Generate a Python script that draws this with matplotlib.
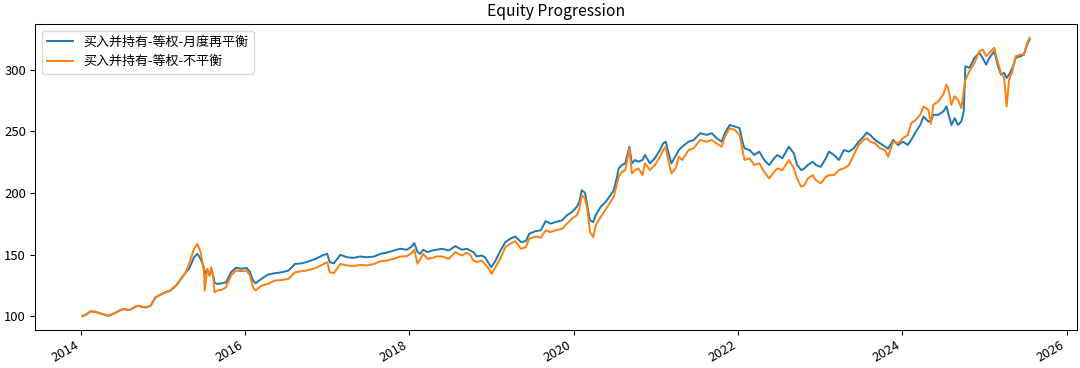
import datetime as dt
import matplotlib
matplotlib.use("Agg")
import matplotlib.pyplot as plt

plt.rcParams['font.family'] = ['Noto Sans CJK SC', 'DejaVu Sans']
plt.rcParams['axes.unicode_minus'] = False

# time axis as decimal years
years = [
    2014.02, 2014.06, 2014.12, 2014.18, 2014.24, 2014.34, 2014.43, 2014.51, 2014.59, 2014.69,
    2014.79, 2014.85, 2014.91, 2014.97, 2015.03, 2015.09, 2015.16, 2015.22, 2015.28, 2015.32,
    2015.38, 2015.42, 2015.46, 2015.50, 2015.51, 2015.54, 2015.57, 2015.59, 2015.61, 2015.63,
    2015.66, 2015.72, 2015.77, 2015.83, 2015.89, 2015.96, 2016.02, 2016.06, 2016.10, 2016.13,
    2016.20, 2016.28, 2016.36, 2016.45, 2016.53, 2016.61, 2016.70, 2016.78, 2016.86, 2016.95,
    2017.00, 2017.03, 2017.08, 2017.16, 2017.24, 2017.32, 2017.40, 2017.48, 2017.57, 2017.65,
    2017.73, 2017.81, 2017.89, 2017.97, 2018.03, 2018.06, 2018.10, 2018.13, 2018.17, 2018.22,
    2018.28, 2018.34, 2018.40, 2018.48, 2018.56, 2018.64, 2018.70, 2018.74, 2018.78, 2018.82,
    2018.88, 2018.92, 2018.97, 2019.00, 2019.05, 2019.11, 2019.17, 2019.23, 2019.29, 2019.36,
    2019.42, 2019.46, 2019.54, 2019.60, 2019.66, 2019.72, 2019.78, 2019.86, 2019.92, 2019.98,
    2020.04, 2020.07, 2020.10, 2020.14, 2020.17, 2020.20, 2020.24, 2020.27, 2020.33, 2020.39,
    2020.45, 2020.49, 2020.53, 2020.55, 2020.59, 2020.63, 2020.68, 2020.71, 2020.75, 2020.79,
    2020.84, 2020.87, 2020.93, 2020.99, 2021.05, 2021.09, 2021.12, 2021.15, 2021.19, 2021.24,
    2021.28, 2021.32, 2021.40, 2021.46, 2021.54, 2021.62, 2021.68, 2021.74, 2021.80, 2021.84,
    2021.90, 2021.96, 2022.02, 2022.06, 2022.08, 2022.14, 2022.20, 2022.26, 2022.32, 2022.38,
    2022.44, 2022.48, 2022.54, 2022.62, 2022.68, 2022.72, 2022.77, 2022.81, 2022.85, 2022.91,
    2022.95, 2023.01, 2023.07, 2023.11, 2023.17, 2023.23, 2023.29, 2023.35, 2023.41, 2023.47,
    2023.53, 2023.57, 2023.61, 2023.67, 2023.73, 2023.79, 2023.83, 2023.89, 2023.95, 2024.01,
    2024.07, 2024.11, 2024.16, 2024.22, 2024.26, 2024.32, 2024.35, 2024.38, 2024.44, 2024.50,
    2024.54, 2024.56, 2024.60, 2024.64, 2024.68, 2024.72, 2024.75, 2024.77, 2024.82, 2024.88,
    2024.94, 2024.98, 2025.02, 2025.06, 2025.12, 2025.16, 2025.20, 2025.24, 2025.27, 2025.30,
    2025.34, 2025.38, 2025.44, 2025.48, 2025.52, 2025.55,
]

# 买入并持有-等权-月度再平衡
rebalanced = [
    100.0, 101.0, 103.8, 103.5, 102.1, 100.2, 103.0, 105.7, 104.9, 108.4,
    107.0, 108.4, 115.2, 117.4, 119.3, 120.7, 124.7, 130.2, 135.6, 138.4,
    147.8, 150.6, 146.5, 139.7, 134.0, 138.0, 133.0, 138.0, 134.0, 127.4,
    126.1, 126.6, 127.4, 135.6, 139.2, 138.4, 139.2, 136.0, 128.8, 126.6,
    130.2, 133.7, 134.8, 135.6, 137.0, 142.4, 142.9, 144.6, 146.5, 149.5,
    150.6, 143.8, 142.9, 149.8, 147.8, 147.3, 148.4, 147.8, 148.4, 150.6,
    151.6, 153.3, 154.7, 153.9, 156.6, 159.3, 152.0, 150.6, 153.9, 152.0,
    153.3, 154.0, 154.7, 153.3, 156.8, 153.9, 154.7, 153.3, 152.0, 148.4,
    149.2, 147.8, 142.4, 139.7, 145.1, 153.3, 160.1, 162.9, 164.7, 160.1,
    161.0, 166.9, 169.1, 169.6, 177.2, 175.1, 176.4, 177.8, 181.9, 184.6,
    188.7, 192.7, 202.3, 200.1, 188.7, 177.8, 176.4, 181.9, 188.7, 192.7,
    198.2, 202.3, 213.2, 220.0, 222.7, 224.1, 237.6, 224.1, 226.8, 225.4,
    226.8, 230.9, 224.1, 228.2, 234.9, 240.4, 241.7, 233.6, 224.1, 230.0,
    234.9, 237.6, 241.7, 243.0, 248.6, 247.2, 248.6, 244.5, 241.7, 248.6,
    255.3, 254.0, 252.7, 240.4, 236.3, 234.9, 230.9, 233.6, 226.8, 222.7,
    228.2, 230.9, 228.2, 237.6, 232.2, 223.0, 218.6, 220.0, 222.7, 225.4,
    222.7, 221.3, 228.2, 233.6, 230.9, 226.8, 234.9, 233.6, 236.3, 241.7,
    245.8, 249.1, 247.2, 243.1, 240.4, 237.6, 236.0, 243.1, 239.0, 241.7,
    239.0, 243.1, 249.0, 255.3, 262.1, 258.0, 259.0, 263.5, 263.5, 266.2,
    270.3, 264.9, 255.3, 260.8, 255.3, 258.0, 266.2, 303.0, 301.7, 309.8,
    313.9, 309.8, 304.3, 309.8, 315.2, 304.3, 296.2, 297.6, 293.5, 296.2,
    301.6, 309.8, 311.1, 312.5, 320.6, 324.7,
]

# 买入并持有-等权-不平衡
unbalanced = [
    100.0, 101.0, 103.8, 103.5, 102.1, 100.2, 103.0, 105.7, 104.9, 108.4,
    107.0, 108.4, 115.2, 117.4, 119.3, 120.7, 124.7, 130.2, 135.6, 142.4,
    154.7, 158.8, 152.0, 137.0, 120.7, 138.4, 132.9, 139.7, 134.0, 119.3,
    120.7, 121.5, 123.4, 132.9, 137.0, 136.5, 137.0, 133.0, 123.4, 120.7,
    124.7, 126.1, 128.8, 129.3, 130.2, 135.6, 136.5, 137.5, 139.0, 142.0,
    143.8, 135.6, 134.8, 142.4, 141.1, 140.6, 141.6, 141.1, 142.4, 144.6,
    145.2, 146.5, 148.4, 148.7, 151.4, 153.9, 142.4, 145.8, 150.6, 146.5,
    147.3, 148.5, 148.4, 146.5, 152.0, 149.2, 151.5, 149.9, 145.1, 143.8,
    145.1, 142.4, 138.4, 134.3, 139.7, 147.3, 156.0, 158.8, 160.9, 154.7,
    156.0, 162.9, 164.7, 163.6, 169.6, 168.3, 169.6, 171.0, 175.1, 179.2,
    181.9, 186.5, 198.2, 195.5, 186.0, 168.3, 164.2, 173.7, 180.5, 186.5,
    192.7, 196.9, 207.8, 213.2, 217.2, 218.6, 236.3, 215.9, 218.6, 220.0,
    214.5, 224.1, 218.6, 222.7, 229.5, 234.9, 237.6, 226.8, 215.9, 220.0,
    229.5, 226.8, 234.9, 236.3, 243.1, 241.7, 243.1, 240.4, 237.6, 245.8,
    252.7, 251.3, 247.2, 233.6, 226.8, 228.2, 222.7, 224.1, 217.2, 211.8,
    217.2, 220.0, 218.6, 226.8, 220.0, 212.0, 205.0, 206.3, 211.8, 214.5,
    210.4, 207.8, 213.2, 214.5, 214.5, 218.6, 220.0, 222.7, 230.9, 239.0,
    243.1, 244.5, 241.7, 240.4, 236.3, 234.9, 229.5, 241.7, 240.4, 244.5,
    247.2, 256.7, 259.0, 263.5, 270.3, 267.6, 256.0, 271.7, 274.4, 279.8,
    288.0, 285.3, 271.7, 278.5, 275.8, 269.0, 282.5, 292.1, 298.9, 305.7,
    315.2, 316.6, 311.1, 313.9, 318.0, 307.0, 297.6, 293.5, 270.3, 292.1,
    298.9, 311.1, 312.4, 312.4, 321.9, 326.0,
]

labels = ["买入并持有-等权-月度再平衡", "买入并持有-等权-不平衡"]


def to_date(y):
    year = int(y)
    start = dt.datetime(year, 1, 1)
    return start + dt.timedelta(days=(y - year) * 365.25)


dates = [to_date(y) for y in years]

DPI = 94
fig, ax = plt.subplots(figsize=(1080 / DPI, 368 / DPI), dpi=DPI)
ax.plot(dates, rebalanced, color="#1f77b4", lw=1.5, label=labels[0])
ax.plot(dates, unbalanced, color="#ff7f0e", lw=1.5, label=labels[1])

ax.set_title("Equity Progression", fontsize=12)
ax.legend(loc="upper left", fontsize=10)
ax.tick_params(labelsize=10)
fig.autofmt_xdate()

fig.subplots_adjust(left=35 / 1080, right=1077 / 1080, top=1 - 24 / 368, bottom=1 - 330 / 368)
fig.savefig("out.png", dpi=DPI)
